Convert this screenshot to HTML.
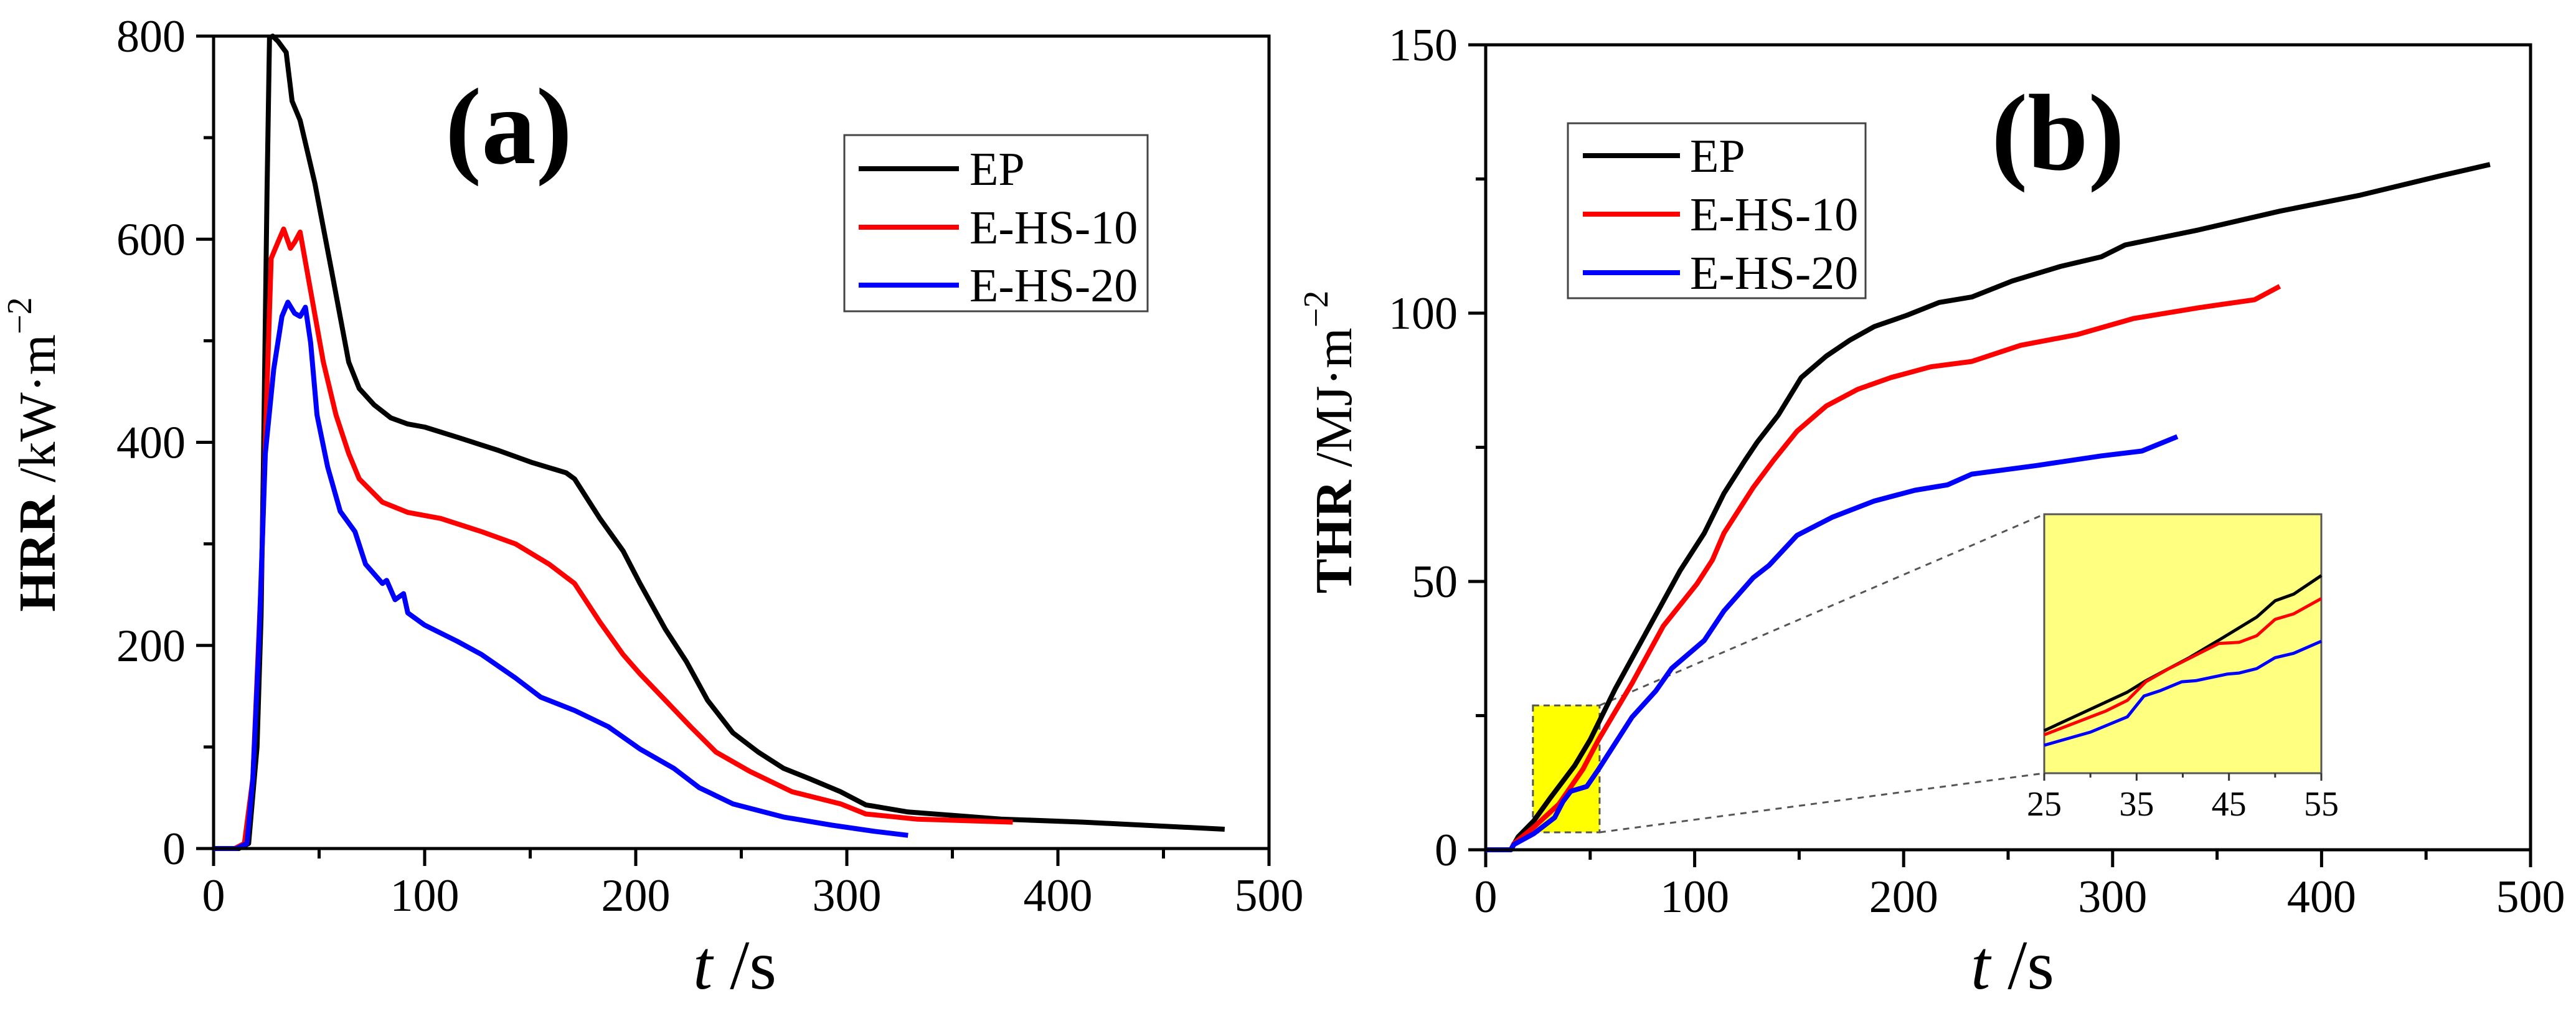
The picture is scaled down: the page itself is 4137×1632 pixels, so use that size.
<!DOCTYPE html>
<html><head><meta charset="utf-8"><style>
html,body{margin:0;padding:0;background:#fff;}
svg{display:block;font-family:"Liberation Serif",serif;}
</style></head><body>
<svg id="fig" width="4137" height="1632" viewBox="0 0 4137 1632" xmlns="http://www.w3.org/2000/svg">
<rect x="0" y="0" width="4137" height="1632" fill="#fff"/>
</svg>
<script>
// ---- Panel (a) HRR data ----
const hrrEpT=[0,12,16.6,20.6,22.5,23.7,25.3,26.5,28,30.5,34.4,37.2,41,48,56,64,69,76,84,92,100,115.5,135,151,167,171,183,194,202,214,224,234,246,258,270,282,297,309,329,373,412,479];
const hrrEpV=[0,0,5,100,229,389,645,798,800,795,784,736,717,655,568,479,453,437,424,418,415,405,392,380,370,364,325,293,261,216,184,146,114,95,79,69,56,43,36,29,26,19];
const hrr10T=[0,10,14.6,18.6,22.5,25.3,27.3,30.5,33.2,36.4,38.4,41,46,52,58,64,69,80,92,107.6,127,143,159,171,183,194,202,214,226,238,254,274,297,309,333,378.6];
const hrr10V=[0,0,5,69,261,453,581,597,610,591,597,607,549,479,427,389,364,341,331,325,312,300,280,261,223,191,172,146,120,95,76,56,44,34,29,26];
const hrr20T=[0,11,15.8,18.6,21.4,24.5,28.5,32.4,35.2,38.4,41,43.5,46,49,54,60,67,72,80,82,86,90,92,100,115.5,127,143,155,171,187,202,218,230,246,270,293,313,329];
const hrr20V=[0,0,5,69,197,389,472,524,538,527,524,533,498,427,376,332,312,280,261,264,245,251,232,220,204,191,168,149,136,120,98,79,60,44,31,23,17,13];
const xTicksA=[0,100,200,300,400,500];
const yTicksA=[0,200,400,600,800];
// ---- Panel (b) THR data ----
const thrEpT=[0,12,15.5,23,31,42.6,50,62,77.5,93,104.6,114,124,130,140,151,163,174.4,186,201.6,217,232.6,252,275,294.6,306,341,380,418.6,457,480.6];
const thrEpV=[0,0,2.4,5.4,9.7,15.7,20.5,30,41,52,59,66.4,72.5,76,81,88,92,95,97.5,99.6,102,103,106,108.7,110.5,112.7,115.5,119,122,125.6,127.7];
const thr10T=[0,12,13.6,23,35,46.5,54,70,85,101,108.5,114,128,137.6,149,163,178,194,213,232.6,256,283,310,341,368,380];
const thr10V=[0,0,1.2,4.2,8.5,15,20.5,31,41.7,49.5,54,59,67.5,72.5,78,82.7,85.8,88,90,91,94,96,99,101,102.5,105];
const thr20T=[0,12,13.6,23,33,37,40.7,48.4,54,70,81.4,89,104.6,114,128,135.6,149,166,186,205.4,221,232.6,263.6,294.6,314,331];
const thr20V=[0,0,1,3,6,9,10.9,11.8,15,24.7,29.6,33.8,39,44.5,50.7,53,58.6,62,65,67,68,70,71.6,73.4,74.3,77];
const xTicksB=[0,100,200,300,400,500];
const yTicksB=[0,50,100,150];
// ---- Inset data (25-55 s) ----
const insEpT=[25,34,36,40.7,44.1,48,50,52,55];
const insEpV=[7.14,10.65,11.7,13.8,15.5,17.5,19,19.6,21.3];
const ins10T=[25,31.7,34,36,38.5,43.9,46.1,48,50,52,55];
const ins10V=[6.76,8.94,9.9,11.6,12.8,15.1,15.2,15.8,17.3,17.8,19.2];
const ins20T=[25,30,34,35.8,37.6,39.9,41.4,44.8,46.1,48,50,52,55];
const ins20V=[5.8,7.0,8.4,10.3,10.8,11.6,11.7,12.3,12.4,12.8,13.8,14.2,15.3];
const insXTicks=[25,35,45,55];

const NS="http://www.w3.org/2000/svg";
const svg=document.getElementById('fig');
function mk(tag,attrs,parent){const e=document.createElementNS(NS,tag);for(const k in attrs)e.setAttribute(k,attrs[k]);(parent||svg).appendChild(e);return e;}
function scale(d0,d1,p0,p1){return v=>p0+(v-d0)/(d1-d0)*(p1-p0);}
function pathD(T,V,sx,sy){return T.map((t,i)=>(i?'L':'M')+sx(t).toFixed(1)+','+sy(V[i]).toFixed(1)).join(' ');}

function panel(cfg){
  const g=mk('g',{});
  
  
  const sx=scale(0,cfg.xmax,cfg.L,cfg.R), sy=scale(0,cfg.ymax,cfg.B,cfg.T);
  for(let v=0;v<=cfg.xmax+1e-9;v+=cfg.xminor){
    const major=cfg.xticks.includes(v);
    const t=mk('line',{x1:sx(v),x2:sx(v),y1:cfg.B,y2:cfg.B+(major?28:16),stroke:'#000','stroke-width':5},g);
    
    
  }
  cfg.xticks.forEach(v=>{
    const t=mk('text',{x:sx(v),y:cfg.B+100,'font-size':74,'text-anchor':'middle',fill:'#000'},g);
    t.textContent=v;
    
    
  });
  for(let v=0;v<=cfg.ymax+1e-9;v+=cfg.yminor){
    const major=cfg.yticks.includes(v);
    const t=mk('line',{x1:cfg.L-(major?28:16),x2:cfg.L,y1:sy(v),y2:sy(v),stroke:'#000','stroke-width':5},g);
    
    
  }
  cfg.yticks.forEach(v=>{
    const t=mk('text',{x:cfg.L-45,y:sy(v)+25,'font-size':74,'text-anchor':'end',fill:'#000'},g);
    t.textContent=v;
    
    
  });
  if(cfg.pre)cfg.pre(g,sx,sy);
  cfg.series.forEach(s=>{
    const p=mk('path',{d:pathD(s.T,s.V,sx,sy),fill:'none',stroke:s.c,'stroke-width':8,'stroke-linejoin':'round'},g);
    
    
  });
  const fr=mk('rect',{x:cfg.L,y:cfg.T,width:cfg.R-cfg.L,height:cfg.B-cfg.T,fill:'none',stroke:'#000','stroke-width':5},g);
  
  
  const lg=mk('g',{},g);
  
  
  const lb=cfg.leg;
  mk('rect',{x:lb.x,y:lb.y,width:lb.w,height:lb.h,fill:'#fff',stroke:'#444','stroke-width':3},lg);
  cfg.series.forEach((s,i)=>{
    const yy=lb.ys[i];
    const e=mk('g',{},lg);
    
    
    mk('line',{x1:lb.lx1,x2:lb.lx2,y1:yy,y2:yy,stroke:s.c,'stroke-width':8},e);
    const t=mk('text',{x:lb.tx,y:yy+26,'font-size':76,fill:'#000'},e);
    t.textContent=s.label;
  });
  const pl=mk('text',{x:cfg.pl[0],y:cfg.pl[1],'font-size':175,'font-weight':'bold','text-anchor':'middle',fill:'#000'},g);
  pl.textContent=cfg.plText;
  
  
  const xt=mk('text',{x:cfg.xt[0],y:cfg.xt[1],'font-size':112,'text-anchor':'middle',fill:'#000'},g);
  xt.innerHTML='<tspan font-style="italic">t</tspan> /s';
  
  
  const yt=mk('text',{x:0,y:0,'font-size':84,'text-anchor':'middle',fill:'#000',transform:`translate(${cfg.yt[0]},${cfg.yt[1]}) rotate(-90)`},g);
  yt.innerHTML='<tspan font-weight="bold">'+cfg.ytBold+'</tspan> '+cfg.ytText+'·m<tspan font-size="56" dy="-38">−2</tspan>';
  
  
}

panel({name:'hrr-chart',L:343,R:2038,T:58,B:1363,xmax:500,ymax:800,xticks:xTicksA,xminor:50,yticks:yTicksA,yminor:100,
  series:[{T:hrrEpT,V:hrrEpV,c:'#000',n:'series-ep',label:'EP'},{T:hrr10T,V:hrr10V,c:'#ff0000',n:'series-e-hs-10',label:'E-HS-10'},{T:hrr20T,V:hrr20V,c:'#0000ff',n:'series-e-hs-20',label:'E-HS-20'}],
  leg:{x:1356,y:217,w:487,h:283,ys:[271,365,458],lx1:1379,lx2:1540,tx:1557},
  pl:[817,262],plText:'(a)',xt:[1180,1588],yt:[88,730],ytBold:'HRR',ytText:'/kW'});

panel({name:'thr-chart',L:2386,R:4064,T:72,B:1365,xmax:500,ymax:150,xticks:xTicksB,xminor:50,yticks:yTicksB,yminor:25,
  series:[{T:thrEpT,V:thrEpV,c:'#000',n:'series-ep',label:'EP'},{T:thr10T,V:thr10V,c:'#ff0000',n:'series-e-hs-10',label:'E-HS-10'},{T:thr20T,V:thr20V,c:'#0000ff',n:'series-e-hs-20',label:'E-HS-20'}],
  leg:{x:2518,y:198,w:478,h:281,ys:[250,344,438],lx1:2542,lx2:2698,tx:2714},
  pl:[3305,272],plText:'(b)',xt:[3232,1588],yt:[2170,710],ytBold:'THR',ytText:'/MJ',
  pre:(g,sx,sy)=>{
    const bx0=sx(22.6),bx1=sx(54.5),by0=sy(26.9),by1=sy(3.25);
    const zb=mk('rect',{x:bx0,y:by0,width:bx1-bx0,height:by1-by0,fill:'#ffff00',stroke:'#555','stroke-width':3,'stroke-dasharray':'10,7'},g);
    
    
    const IL=3283,IR=3728,IT=826,IB=1242;
    mk('line',{x1:bx1,y1:by0,x2:IL,y2:IT,stroke:'#555','stroke-width':3,'stroke-dasharray':'10,9'},g);
    mk('line',{x1:bx1,y1:by1,x2:IL,y2:IB,stroke:'#555','stroke-width':3,'stroke-dasharray':'10,9'},g);
    const ig=mk('g',{},g);
    
    
    mk('rect',{x:IL,y:IT,width:IR-IL,height:IB-IT,fill:'#ffff80',stroke:'#555','stroke-width':3},ig);
    const ix=scale(25,55,IL,IR), iy=scale(3.25,26.9,IB,IT);
    for(let v=25;v<=55;v+=5){mk('line',{x1:ix(v),x2:ix(v),y1:IB,y2:IB+(v%10===5?12:7),stroke:'#333','stroke-width':3},ig);}
    insXTicks.forEach(v=>{const t=mk('text',{x:ix(v),y:IB+68,'font-size':56,'text-anchor':'middle',fill:'#000'},ig);t.textContent=v;
      
      });
    [[insEpT,insEpV,'#000','inset-ep'],[ins10T,ins10V,'#ff0000','inset-e-hs-10'],[ins20T,ins20V,'#0000ff','inset-e-hs-20']].forEach(s=>{
      const p=mk('path',{d:pathD(s[0],s[1],ix,iy),fill:'none',stroke:s[2],'stroke-width':5,'stroke-linejoin':'round'},ig);
      
      
    });
  }});
</script>
</body></html>
